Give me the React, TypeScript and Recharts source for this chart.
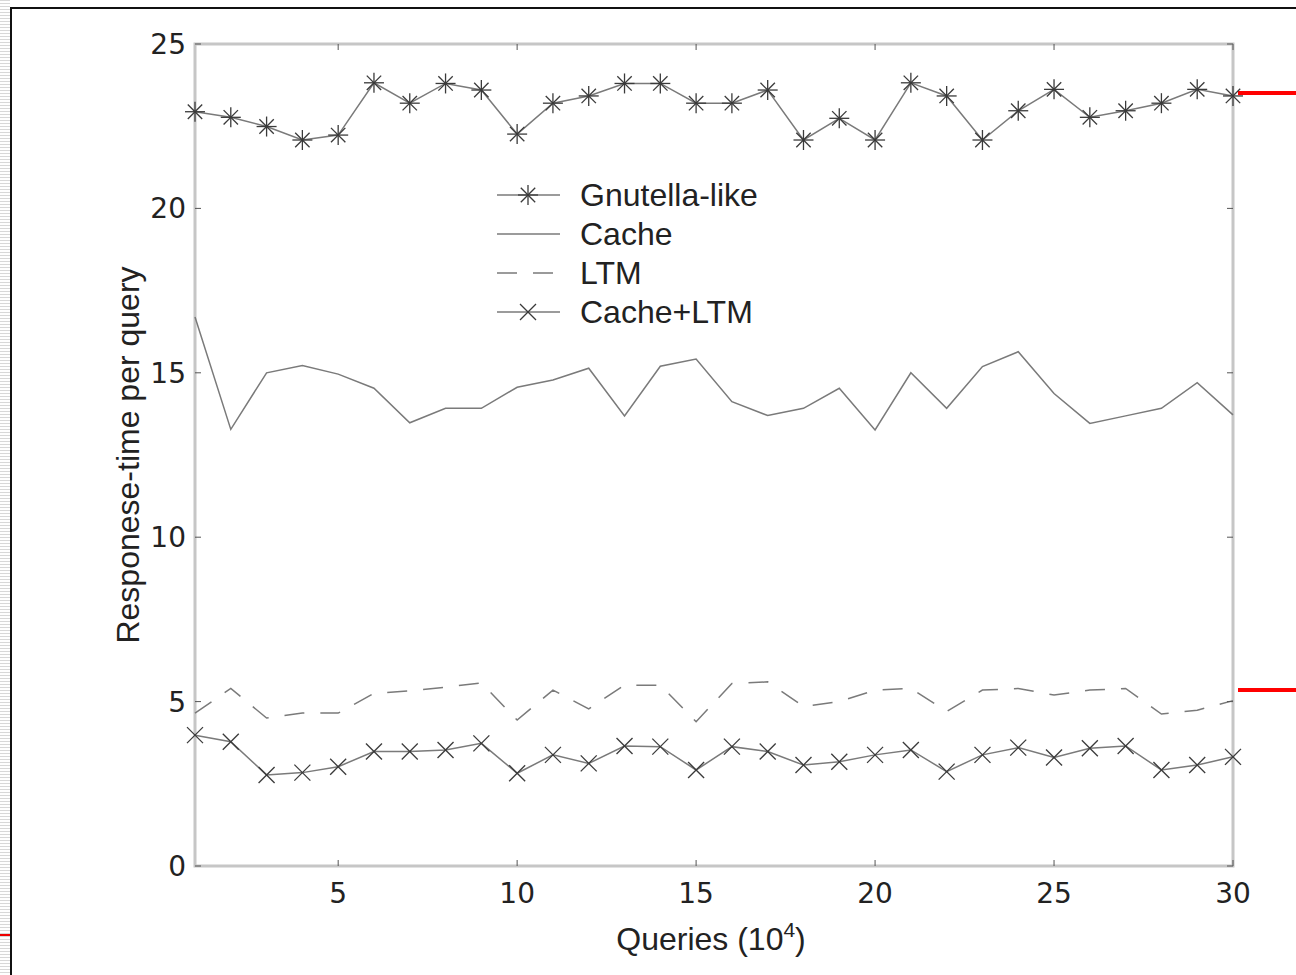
import React from "react";
import {
  LineChart,
  Line,
  XAxis,
  YAxis,
  Legend,
  ReferenceArea,
} from "recharts";

// query index (x 10^4)
const queries = [
  1, 2, 3, 4, 5, 6, 7, 8, 9, 10, 11, 12, 13, 14, 15, 16, 17, 18, 19, 20, 21,
  22, 23, 24, 25, 26, 27, 28, 29, 30,
];

const gnutella = [
  22.94, 22.77, 22.49, 22.08, 22.23, 23.82, 23.2, 23.8, 23.6, 22.26, 23.2,
  23.42, 23.8, 23.8, 23.2, 23.2, 23.6, 22.08, 22.74, 22.08, 23.82, 23.42, 22.08,
  22.97, 23.62, 22.77, 22.97, 23.2, 23.62, 23.42,
];

const cache = [
  16.7, 13.28, 15.0, 15.22, 14.96, 14.53, 13.48, 13.92, 13.92, 14.56, 14.78,
  15.14, 13.69, 15.2, 15.42, 14.12, 13.7, 13.92, 14.53, 13.26, 15.0, 13.92,
  15.19, 15.64, 14.37, 13.46, 13.69, 13.92, 14.7, 13.72,
];

const ltm = [
  4.65, 5.4, 4.5, 4.65, 4.65, 5.25, 5.33, 5.44, 5.57, 4.44, 5.35, 4.78, 5.5,
  5.5, 4.39, 5.55, 5.6, 4.85, 5.0, 5.35, 5.4, 4.7, 5.35, 5.4, 5.2, 5.35, 5.4,
  4.62, 4.74, 5.03,
];

const cacheLtm = [
  3.98, 3.78, 2.77, 2.84, 3.02, 3.48, 3.48, 3.53, 3.73, 2.82, 3.38, 3.12, 3.65,
  3.63, 2.92, 3.63, 3.48, 3.07, 3.17, 3.38, 3.53, 2.87, 3.38, 3.6, 3.3, 3.58,
  3.65, 2.92, 3.07, 3.32,
];

const xTicks = [5, 10, 15, 20, 25, 30];
const yTicks = [0, 5, 10, 15, 20, 25];

const seriesNames = ["Gnutella-like", "Cache", "LTM", "Cache+LTM"];

const data = queries.map((q, i) => ({
  q,
  gnutella: gnutella[i],
  cache: cache[i],
  ltm: ltm[i],
  cacheLtm: cacheLtm[i],
}));

const W = 1296;
const H = 975;
const margin = { top: 44, right: 63, bottom: 49, left: 135 };
const plotRight = W - margin.right;
const plotTop = margin.top;
const font = "'Liberation Sans', Arial, Helvetica, sans-serif";
const numFont = "'DejaVu Sans', sans-serif";
const lineColor = "#7a7a7a";
const markColor = "#3a3a3a";
const axisColor = "#c6c6c6";

const Asterisk = ({ cx, cy, r = 10 }: { cx: number; cy: number; r?: number }) => {
  const d = r * 0.72;
  return (
    <g stroke={markColor} strokeWidth={1.3}>
      <line x1={cx - r} y1={cy} x2={cx + r} y2={cy} />
      <line x1={cx} y1={cy - r} x2={cx} y2={cy + r} />
      <line x1={cx - d} y1={cy - d} x2={cx + d} y2={cy + d} />
      <line x1={cx - d} y1={cy + d} x2={cx + d} y2={cy - d} />
    </g>
  );
};

const Cross = ({ cx, cy, r = 8 }: { cx: number; cy: number; r?: number }) => (
  <g stroke={markColor} strokeWidth={1.3}>
    <line x1={cx - r} y1={cy - r} x2={cx + r} y2={cy + r} />
    <line x1={cx - r} y1={cy + r} x2={cx + r} y2={cy - r} />
  </g>
);

const XTick = (props: any) => {
  const { x, y, payload } = props;
  return (
    <g>
      <line x1={x} y1={y} x2={x} y2={y - 6} stroke="#555" strokeWidth={1} />
      <line x1={x} y1={plotTop} x2={x} y2={plotTop + 6} stroke="#555" strokeWidth={1} />
      <text x={x} y={y + 37} textAnchor="middle" fontSize={28} fontFamily={numFont} fill="#222">
        {payload.value}
      </text>
    </g>
  );
};

const YTick = (props: any) => {
  const { x, y, payload } = props;
  return (
    <g>
      <line x1={x} y1={y} x2={x + 6} y2={y} stroke="#555" strokeWidth={1} />
      <line x1={plotRight - 6} y1={y} x2={plotRight} y2={y} stroke="#555" strokeWidth={1} />
      <text x={x - 9} y={y + 10} textAnchor="end" fontSize={28} fontFamily={numFont} fill="#222">
        {payload.value}
      </text>
    </g>
  );
};

const LegendBox = () => {
  const rowH = 39;
  return (
    <svg width={320} height={160} style={{ display: "block" }}>
      {seriesNames.map((name, i) => {
        const cy = 17 + i * rowH;
        return (
          <g key={name}>
            <line
              x1={5}
              x2={68}
              y1={cy}
              y2={cy}
              stroke={lineColor}
              strokeWidth={1.5}
              strokeDasharray={i === 2 ? "20 16" : undefined}
            />
            {i === 0 && <Asterisk cx={36} cy={cy} r={10} />}
            {i === 3 && <Cross cx={36} cy={cy} r={8} />}
            <text x={88} y={cy + 11} fontSize={32} fontFamily={font} fill="#222">
              {name}
            </text>
          </g>
        );
      })}
    </svg>
  );
};

export default function App() {
  return (
    <div
      style={{
        position: "absolute",
        left: 0,
        top: 0,
        width: W,
        height: H,
        background: "#fff",
        overflow: "hidden",
      }}
    >
      {/* slide frame bits */}
      <div
        style={{
          position: "absolute",
          left: 0,
          top: 0,
          width: 10,
          height: H,
          background:
            "repeating-linear-gradient(180deg, #d8d8d8 0px, #d8d8d8 1px, #fff 1px, #fff 3px)",
        }}
      />
      <div style={{ position: "absolute", left: 10, top: 7, width: 2, height: H, background: "#111" }} />
      <div style={{ position: "absolute", left: 10, top: 7, width: W, height: 2, background: "#111" }} />
      <div style={{ position: "absolute", left: 0, top: 934, width: 10, height: 2, background: "#e00" }} />
      <div style={{ position: "absolute", left: 1238, top: 91, width: 60, height: 4, background: "#f00" }} />
      <div style={{ position: "absolute", left: 1238, top: 688, width: 60, height: 4, background: "#f00" }} />

      <div style={{ position: "absolute", left: 0, top: 0 }}>
        <LineChart width={W} height={H} data={data} margin={margin}>
          <ReferenceArea
            x1={1}
            x2={30}
            y1={0}
            y2={25}
            fill="none"
            stroke={axisColor}
            strokeWidth={3}
            ifOverflow="visible"
          />
          <XAxis
            dataKey="q"
            type="number"
            domain={[1, 30]}
            ticks={xTicks}
            interval={0}
            axisLine={false}
            tickLine={false}
            tickSize={0}
            tickMargin={0}
            height={60}
            tick={<XTick />}
            label={{
              content: () => (
                <text x={711} y={950} textAnchor="middle" fontSize={32} fontFamily={font} fill="#222">
                  <tspan>Queries (10</tspan>
                  <tspan dy={-13} fontSize={21}>4</tspan>
                  <tspan dy={13}>)</tspan>
                </text>
              ),
            }}
          />
          <YAxis
            type="number"
            domain={[0, 25]}
            ticks={yTicks}
            interval={0}
            axisLine={false}
            tickLine={false}
            tickSize={0}
            tickMargin={0}
            width={60}
            tick={<YTick />}
            label={{
              content: () => (
                <text
                  x={128}
                  y={455}
                  transform="rotate(-90 128 455)"
                  textAnchor="middle"
                  dominantBaseline="central"
                  fontSize={32}
                  fontFamily={font}
                  fill="#222"
                >
                  Responese-time per query
                </text>
              ),
            }}
          />
          <Legend
            layout="horizontal"
            verticalAlign="middle"
            align="center"
            wrapperStyle={{ position: "absolute", left: 492, top: 178, width: 320, height: 160 }}
            content={() => <LegendBox />}
          />
          <Line
            dataKey="gnutella"
            name={seriesNames[0]}
            stroke={lineColor}
            strokeWidth={1.5}
            isAnimationActive={false}
            dot={(p: any) => <Asterisk key={`g${p.index}`} cx={p.cx} cy={p.cy} />}
            activeDot={false}
          />
          <Line
            dataKey="cache"
            name={seriesNames[1]}
            stroke={lineColor}
            strokeWidth={1.5}
            isAnimationActive={false}
            dot={false}
            activeDot={false}
          />
          <Line
            dataKey="ltm"
            name={seriesNames[2]}
            stroke={lineColor}
            strokeWidth={1.5}
            strokeDasharray="20 16"
            isAnimationActive={false}
            dot={false}
            activeDot={false}
          />
          <Line
            dataKey="cacheLtm"
            name={seriesNames[3]}
            stroke={lineColor}
            strokeWidth={1.5}
            isAnimationActive={false}
            dot={(p: any) => <Cross key={`c${p.index}`} cx={p.cx} cy={p.cy} />}
            activeDot={false}
          />
        </LineChart>
      </div>
    </div>
  );
}
